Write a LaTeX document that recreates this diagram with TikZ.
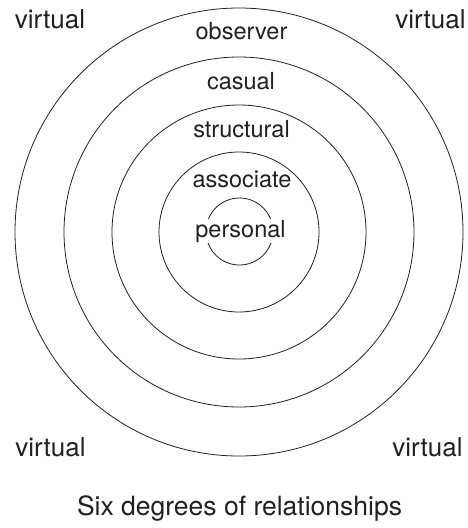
\documentclass[tikz,border=0pt]{standalone}
\usepackage{fontspec}
\setmainfont{TeX Gyre Heros}
\definecolor{ink}{RGB}{35,31,32}
\begin{document}
\begin{tikzpicture}[x=1pt,y=-1pt,
  ring/.style={draw=ink,line width=0.8pt},
  lab/.style={anchor=base,inner sep=1pt,text=ink,font=\fontsize{23.5}{28}\selectfont},
  corner/.style={anchor=base,inner sep=1pt,text=ink,font=\fontsize{26}{30}\selectfont},
  caption/.style={anchor=base,inner sep=1pt,text=ink,font=\fontsize{26.5}{31}\selectfont}]
\useasboundingbox (0,0) rectangle (468,528);
\coordinate (c) at (239,232);
\draw[ring] (c) circle[radius=224];
\draw[ring] (c) circle[radius=175];
\draw[ring] (c) circle[radius=127];
\draw[ring] (c) circle[radius=80];
\draw[ring] (239.5,231.5) circle[radius=33.5];
\node[corner] (v1) at (50,28) {virtual};
\node[corner] (v2) at (430.5,28) {virtual};
\node[corner] (v3) at (50.5,456) {virtual};
\node[corner] (v4) at (427.5,456) {virtual};
\node[lab] (obs) at (241.5,39) {observer};
\node[lab] (cas) at (241,89) {casual};
\node[lab] (str) at (241.5,137) {structural};
\node[lab] (ass) at (242,187) {associate};
\node[lab,fill=white] (per) at (240.5,237) {personal};
\node[caption] (cap) at (239.5,515) {Six degrees of relationships};
\end{tikzpicture}
\end{document}
